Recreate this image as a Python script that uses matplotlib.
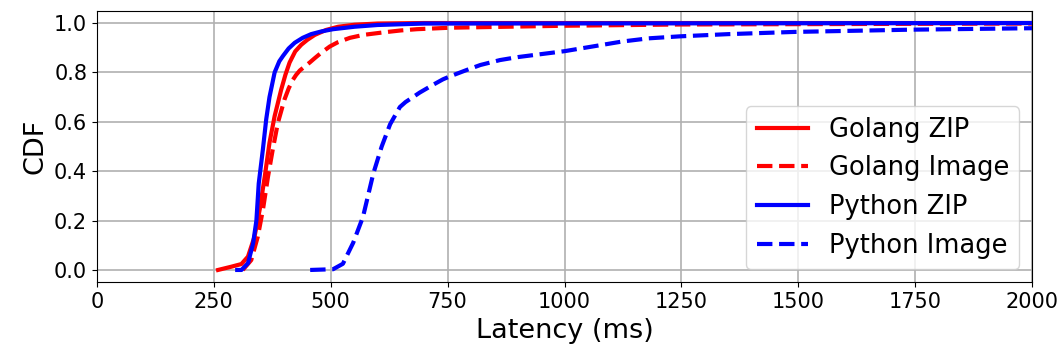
import numpy as np
import matplotlib
matplotlib.use('Agg')
import matplotlib.pyplot as plt

# curvas CDF leidas a ojo del grafico original (latencia en ms)
go_zip_x = [259, 287, 309, 323, 337, 348, 359, 369, 380, 394, 403, 412, 424, 437, 450, 466, 490, 516, 551, 600, 700, 2000]
go_zip_y = [0.0, 0.013, 0.024, 0.054, 0.135, 0.244, 0.38, 0.515, 0.623, 0.73, 0.79, 0.84, 0.885, 0.912, 0.932, 0.952, 0.972, 0.985, 0.993, 0.998, 1.0, 1.0]

go_img_x = [312, 330, 344, 355, 366, 376, 387, 401, 410, 419, 426, 434, 455, 466, 480, 498, 515, 541, 570, 612, 650, 684, 755, 1000, 1246, 1600, 2000]
go_img_y = [0.0, 0.04, 0.135, 0.244, 0.38, 0.488, 0.596, 0.69, 0.735, 0.77, 0.79, 0.808, 0.84, 0.858, 0.88, 0.905, 0.922, 0.94, 0.952, 0.962, 0.97, 0.975, 0.981, 0.989, 0.994, 0.996, 0.998]

py_zip_x = [300, 309, 323, 334, 341, 346, 355, 362, 369, 380, 390, 398, 410, 423, 440, 458, 480, 505, 551, 600, 700, 2000]
py_zip_y = [0.0, 0.0, 0.027, 0.108, 0.20, 0.35, 0.49, 0.61, 0.70, 0.80, 0.845, 0.867, 0.897, 0.92, 0.94, 0.955, 0.966, 0.975, 0.985, 0.992, 0.998, 1.0]

py_img_x = [456, 505, 526, 548, 569, 591, 609, 627, 648, 660, 676, 690, 719, 740, 755, 791, 820, 862, 900, 933, 1000, 1060, 1123, 1180, 1246, 1350, 1492, 1738, 2000]
py_img_y = [0.0, 0.003, 0.025, 0.11, 0.215, 0.39, 0.50, 0.59, 0.66, 0.68, 0.70, 0.718, 0.75, 0.772, 0.784, 0.81, 0.83, 0.85, 0.862, 0.87, 0.886, 0.905, 0.925, 0.938, 0.946, 0.955, 0.964, 0.973, 0.979]

fig = plt.figure(figsize=(10.62, 3.56), dpi=100)
ax = fig.add_axes([0.0913, 0.207, 0.8805, 0.763])

ax.plot(go_zip_x, go_zip_y, 'r-', lw=3, label='Golang ZIP')
ax.plot(go_img_x, go_img_y, 'r--', lw=3, label='Golang Image')
ax.plot(py_zip_x, py_zip_y, 'b-', lw=3, label='Python ZIP')
ax.plot(py_img_x, py_img_y, 'b--', lw=3, label='Python Image')

ax.set_xlim(0, 2000)
ax.set_ylim(-0.05, 1.05)
ax.set_xticks(np.arange(0, 2001, 250))
ax.set_yticks(np.arange(0, 1.01, 0.2))
ax.tick_params(labelsize=15)
ax.grid(True, color='#b0b0b0', lw=1.2)
ax.set_xlabel('Latency (ms)', fontsize=19.5)
ax.set_ylabel('CDF', fontsize=19.5)
ax.legend(loc='lower right', fontsize=18.5)

fig.savefig('out.png', dpi=100)
